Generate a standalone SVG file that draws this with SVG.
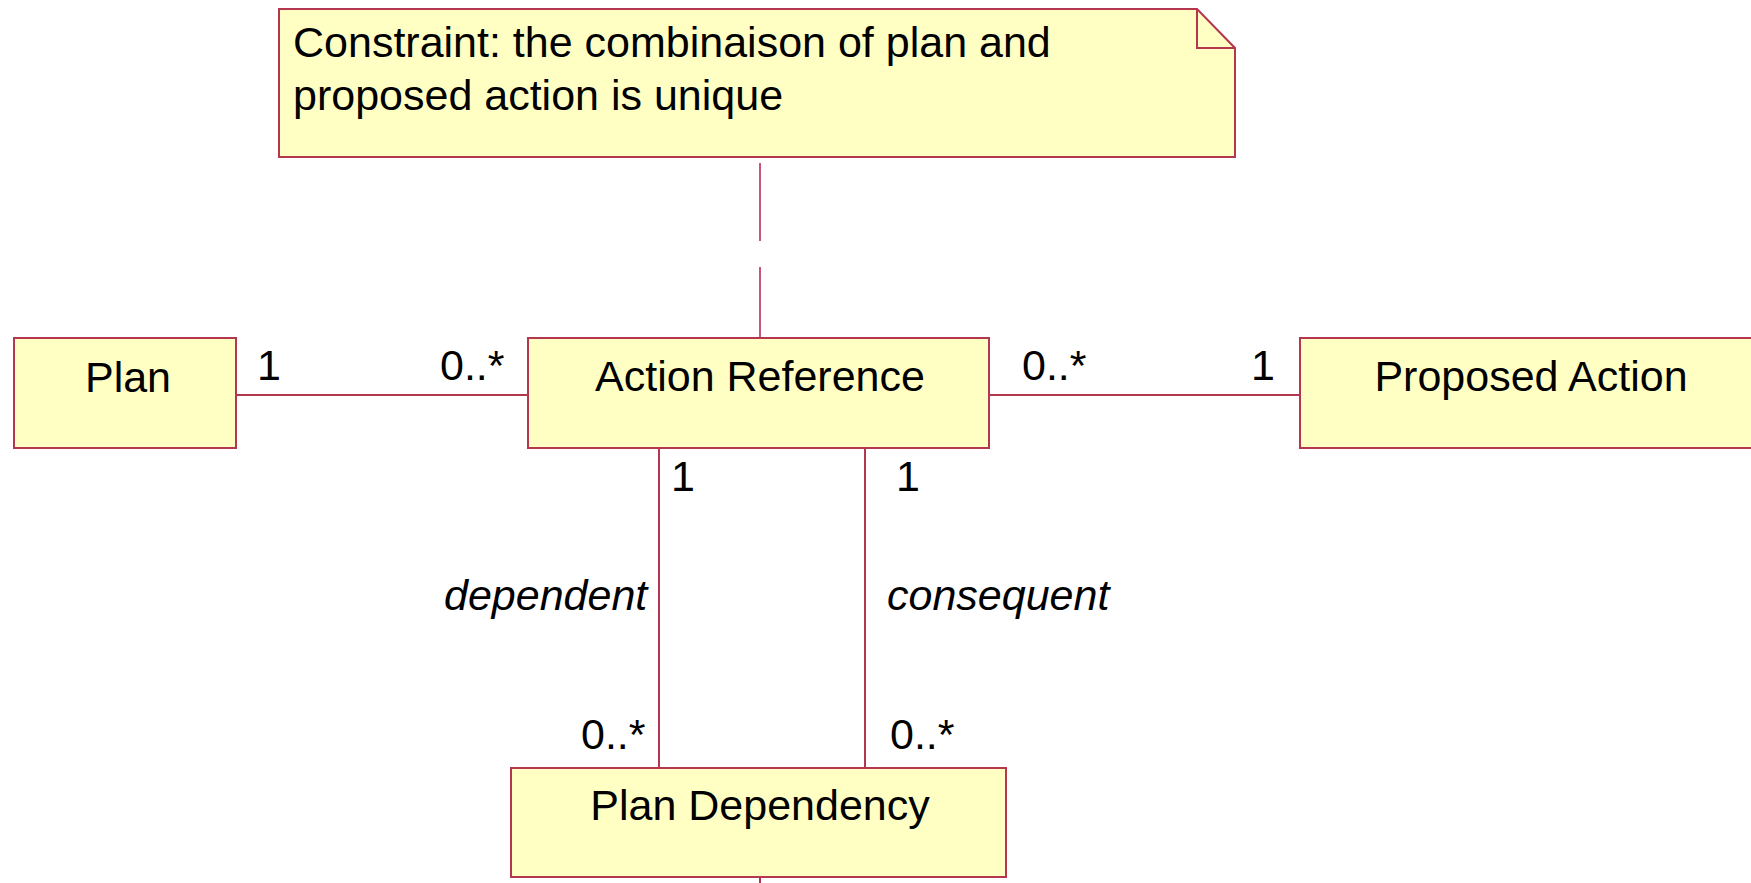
<svg xmlns="http://www.w3.org/2000/svg" width="1751" height="883" viewBox="0 0 1751 883">
  <style>
    .box { fill: #FFFFC4; stroke: #B4374F; stroke-width: 2; }
    .line { fill: none; stroke: #B4374F; stroke-width: 2; }
    .dash { fill: none; stroke: #C8557A; stroke-width: 2; stroke-dasharray: 78 26; }
    text { font-family: "Liberation Sans", Arial, sans-serif; font-size: 43px; fill: #000; }
    .name { text-anchor: middle; }
    .role { font-style: italic; }
  </style>
  <rect width="1751" height="883" fill="#fff"/>

  <!-- associations and note anchor -->
  <g id="connectors">
    <line class="dash" x1="760" y1="163" x2="760" y2="338"/>
    <line class="line" x1="236" y1="395" x2="528" y2="395"/>
    <line class="line" x1="989" y1="395" x2="1300" y2="395"/>
    <line class="line" x1="659" y1="448" x2="659" y2="768"/>
    <line class="line" x1="865" y1="448" x2="865" y2="768"/>
    <line class="line" x1="760" y1="877" x2="760" y2="883"/>
    <text x="257" y="380">1</text>
    <text x="440" y="380">0..*</text>
    <text x="1022" y="380">0..*</text>
    <text x="1251" y="380">1</text>
    <text x="671" y="491">1</text>
    <text x="896" y="491">1</text>
    <text class="role" x="444" y="610">dependent</text>
    <text class="role" x="887" y="610">consequent</text>
    <text x="581" y="749">0..*</text>
    <text x="890" y="749">0..*</text>
  </g>

  <!-- constraint note with folded corner -->
  <g id="note">
    <path class="box" d="M279 9 H1197 L1235 48 V157 H279 Z"/>
    <path class="line" d="M1197 9 V48 H1235"/>
    <text x="293" y="57">Constraint: the combinaison of plan and</text>
    <text x="293" y="110">proposed action is unique</text>
  </g>

  <g id="plan">
    <rect class="box" x="14" y="338" width="222" height="110"/>
    <text class="name" x="128" y="392">Plan</text>
  </g>

  <g id="action-reference">
    <rect class="box" x="528" y="338" width="461" height="110"/>
    <text class="name" x="760" y="391">Action Reference</text>
  </g>

  <g id="proposed-action">
    <rect class="box" x="1300" y="338" width="462" height="110"/>
    <text class="name" x="1531" y="391">Proposed Action</text>
  </g>

  <g id="plan-dependency">
    <rect class="box" x="511" y="768" width="495" height="109"/>
    <text class="name" x="760" y="820">Plan Dependency</text>
  </g>
</svg>
